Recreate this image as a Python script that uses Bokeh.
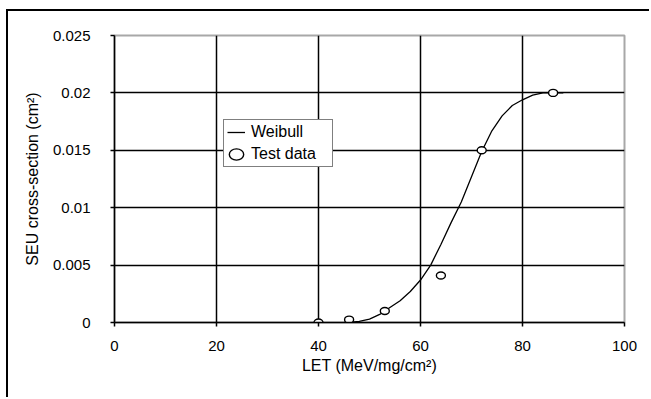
from bokeh.plotting import figure
from bokeh.models import Range1d, FixedTicker, Legend, LegendItem
from bokeh.embed import file_html
from bokeh.resources import INLINE

# Weibull fit curve
weibull_let = [46, 48, 50, 52, 54, 56, 58, 60, 62, 64, 66, 68, 70, 72, 74, 76, 78, 80, 82, 84, 86, 88]
weibull_xs = [0.0000, 0.0001, 0.0003, 0.0007, 0.0013, 0.0019, 0.0027, 0.0037, 0.0050, 0.0068,
              0.0087, 0.0105, 0.0127, 0.0149, 0.0167, 0.0180, 0.0189, 0.0194, 0.0198, 0.0200,
              0.0200, 0.0200]

# Test data
test_let = [40, 46, 53, 64, 72, 86]
test_xs = [0.0, 0.00025, 0.001, 0.0041, 0.015, 0.02]

x_ticks = [0, 20, 40, 60, 80, 100]
x_tick_labels = ["0", "20", "40", "60", "80", "100"]
y_ticks = [0, 0.005, 0.01, 0.015, 0.02, 0.025]
y_tick_labels = ["0", "0.005", "0.01", "0.015", "0.02", "0.025"]

FONT = "Liberation Sans"

p = figure(width=643, height=388, output_backend="svg", toolbar_location=None,
           x_range=Range1d(0, 100), y_range=Range1d(0, 0.025),
           min_border_left=106, min_border_right=27, min_border_top=24, min_border_bottom=77,
           background_fill_color="white", border_fill_color="white")
p.styles = {"border-left": "2px solid #000", "border-top": "2px solid #000",
            "margin-left": "6px", "margin-top": "9px"}

p.outline_line_color = "#a8a8a8"
p.outline_line_width = 2

# grids
p.xgrid.ticker = FixedTicker(ticks=x_ticks[1:-1])
p.ygrid.ticker = FixedTicker(ticks=y_ticks[1:-1])
for g in (p.xgrid, p.ygrid):
    g.grid_line_color = "#000000"
    g.grid_line_width = 1.5

# axes
for ax in (p.xaxis, p.yaxis):
    ax.axis_line_color = "#000000"
    ax.axis_line_width = 1.5
    ax.major_tick_line_color = "#000000"
    ax.major_tick_line_width = 1.5
    ax.major_tick_out = 4
    ax.major_tick_in = 0
    ax.minor_tick_line_color = None
    ax.major_label_text_font = FONT
    ax.major_label_text_font_size = "15px"
    ax.major_label_text_color = "#000000"
    ax.axis_label_text_font = FONT
    ax.axis_label_text_font_size = "16px"
    ax.axis_label_text_font_style = "normal"
    ax.axis_label_text_color = "#000000"

p.xaxis.ticker = FixedTicker(ticks=x_ticks)
p.xaxis.major_label_overrides = dict(zip(x_ticks, x_tick_labels))
p.yaxis.ticker = FixedTicker(ticks=y_ticks)
p.yaxis.major_label_overrides = dict(zip(y_ticks, y_tick_labels))
p.xaxis.major_label_standoff = 14
p.yaxis.major_label_standoff = 20
p.xaxis.axis_label = "LET (MeV/mg/cm²)"
p.yaxis.axis_label = "SEU cross-section (cm²)"
p.xaxis.axis_label_standoff = 3
p.yaxis.axis_label_standoff = 9

r_line = p.line(weibull_let, weibull_xs, line_color="#000000", line_width=1.3)
r_pts = p.ellipse(test_let, test_xs, width=9, height=7, width_units="screen", height_units="screen",
                  fill_color="white", line_color="#000000", line_width=1.4)

legend = Legend(items=[LegendItem(label="Weibull", renderers=[r_line]),
                       LegendItem(label="Test data", renderers=[r_pts])],
                location=(109, 155), orientation="vertical",
                border_line_color="#000000", border_line_width=1.5,
                background_fill_color="white", background_fill_alpha=1.0,
                padding=3, spacing=4, margin=0,
                glyph_width=18, glyph_height=18, label_standoff=6, label_width=78,
                label_text_font=FONT, label_text_font_size="16px", label_text_color="#000000")
p.add_layout(legend, "center")

open("out.html", "w").write(file_html(p, INLINE))
